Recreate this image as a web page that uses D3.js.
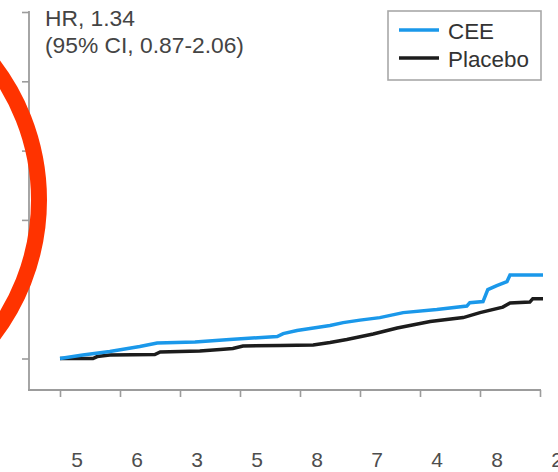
<!DOCTYPE html>
<meta charset="utf-8">
<title>CEE vs Placebo</title>
<script src="https://d3js.org/d3.v7.min.js"></script>
<style>
  body { margin: 0; background: #fff; }
  text { font-family: "Liberation Sans", Arial, sans-serif; }
</style>
<body>
<div id="chart"></div>
<script>

// follow-up years (x) and cumulative incidence (y, %)
var ceeYears     = [0, 0.38, 0.83, 1.33, 1.62, 2.25, 2.83, 3.62, 3.72, 3.95, 4.17, 4.5, 4.72, 5.0, 5.33, 5.72, 6.28, 6.78, 6.83, 7.05, 7.13, 7.28, 7.45, 7.5, 8.05];
var ceeValues    = [0, 0.25, 0.50, 0.86, 1.12, 1.19, 1.37, 1.59, 1.80, 2.02, 2.16, 2.38, 2.59, 2.77, 2.95, 3.31, 3.53, 3.78, 4.03, 4.11, 4.97, 5.26, 5.55, 6.02, 6.02];
var placeboYears = [0, 0.55, 0.62, 0.83, 1.58, 1.67, 2.33, 2.67, 2.88, 3.05, 3.67, 4.22, 4.5, 4.78, 5.22, 5.62, 6.17, 6.72, 7.0, 7.38, 7.5, 7.83, 7.88, 8.05];
var placeboValues= [0, 0, 0.14, 0.25, 0.29, 0.47, 0.54, 0.65, 0.72, 0.90, 0.94, 0.97, 1.15, 1.37, 1.77, 2.20, 2.67, 2.95, 3.31, 3.71, 4.00, 4.07, 4.32, 4.32];

var xTicks = [0, 1, 2, 3, 4, 5, 6, 7, 8];
var yTicks = [0, 5, 10, 15, 20, 25];
var atRisk = ["5", "6", "3", "5", "8", "7", "4", "8", "2"];

var seriesNames = ["CEE", "Placebo"];
var seriesColors = ["#1a98ea", "#1c1c1c"];

var hrText = ["HR, 1.34", "(95% CI, 0.87-2.06)"];

var width = 558, height = 472;

var svg = d3.select("#chart")
  .append("svg")
    .attr("width", width)
    .attr("height", height);

// scales
var x = d3.scaleLinear().domain([0, 8]).range([60, 540]);
var y = d3.scaleLinear().domain([0, 25]).range([358.5, 12]);

var axisColor = "#9c9c9c";

// y axis (its labels fall outside the crop)
var yAxis = svg.append("g")
  .attr("transform", "translate(29,0)")
  .call(d3.axisLeft(y).tickValues(yTicks).tickSize(7).tickFormat(""));
yAxis.select(".domain").remove();
yAxis.selectAll("line").attr("stroke", axisColor).attr("stroke-width", 1.6);

svg.append("line")
  .attr("x1", 29).attr("x2", 29)
  .attr("y1", 11).attr("y2", 390)
  .attr("stroke", axisColor).attr("stroke-width", 1.8);

// x axis
var xAxis = svg.append("g")
  .attr("transform", "translate(0,390)")
  .call(d3.axisBottom(x).tickValues(xTicks).tickSize(7).tickFormat(""));
xAxis.select(".domain").remove();
xAxis.selectAll("line").attr("stroke", axisColor).attr("stroke-width", 1.6);

svg.append("line")
  .attr("x1", 28).attr("x2", 541)
  .attr("y1", 390).attr("y2", 390)
  .attr("stroke", axisColor).attr("stroke-width", 1.8);

// number at risk row (last one is cut by the edge, as in the picture)
svg.append("g")
  .selectAll("text")
  .data(xTicks)
  .join("text")
    .attr("x", d => x(d) + 17)
    .attr("y", 467)
    .attr("text-anchor", "middle")
    .attr("font-size", "21px")
    .attr("fill", "#4d4d4d")
    .text((d, i) => atRisk[i]);

// curves
var line = d3.line()
  .x(d => x(d[0]))
  .y(d => y(d[1]));

var placeboData = placeboYears.map((t, i) => [t, placeboValues[i]]);
var ceeData = ceeYears.map((t, i) => [t, ceeValues[i]]);

svg.append("path")
  .datum(placeboData)
  .attr("fill", "none")
  .attr("stroke", seriesColors[1])
  .attr("stroke-width", 3.5)
  .attr("d", line);

svg.append("path")
  .datum(ceeData)
  .attr("fill", "none")
  .attr("stroke", seriesColors[0])
  .attr("stroke-width", 3.5)
  .attr("d", line);

// hazard ratio text
svg.append("g")
  .selectAll("text")
  .data(hrText)
  .join("text")
    .attr("x", 45)
    .attr("y", (d, i) => 26 + i * 27)
    .attr("font-size", "22.8px")
    .attr("fill", "#444")
    .text(d => d);

// legend
var legend = svg.append("g");
legend.append("rect")
  .attr("x", 388).attr("y", 11)
  .attr("width", 153).attr("height", 69)
  .attr("fill", "#fff")
  .attr("stroke", "#a8a8a8")
  .attr("stroke-width", 1.6);

legend.selectAll(".key")
  .data(seriesNames)
  .join("line")
    .attr("class", "key")
    .attr("x1", 399).attr("x2", 439)
    .attr("y1", (d, i) => 30 + i * 28)
    .attr("y2", (d, i) => 30 + i * 28)
    .attr("stroke", (d, i) => seriesColors[i])
    .attr("stroke-width", 3.5);

legend.selectAll(".lab")
  .data(seriesNames)
  .join("text")
    .attr("class", "lab")
    .attr("x", 448)
    .attr("y", (d, i) => 38.5 + i * 28)
    .attr("font-size", "22.4px")
    .attr("fill", "#333")
    .text(d => d);

// red annotation ring
svg.append("circle")
  .attr("cx", -183)
  .attr("cy", 200)
  .attr("r", 222)
  .attr("fill", "none")
  .attr("stroke", "#ff3300")
  .attr("stroke-width", 16);

</script>
</body>
